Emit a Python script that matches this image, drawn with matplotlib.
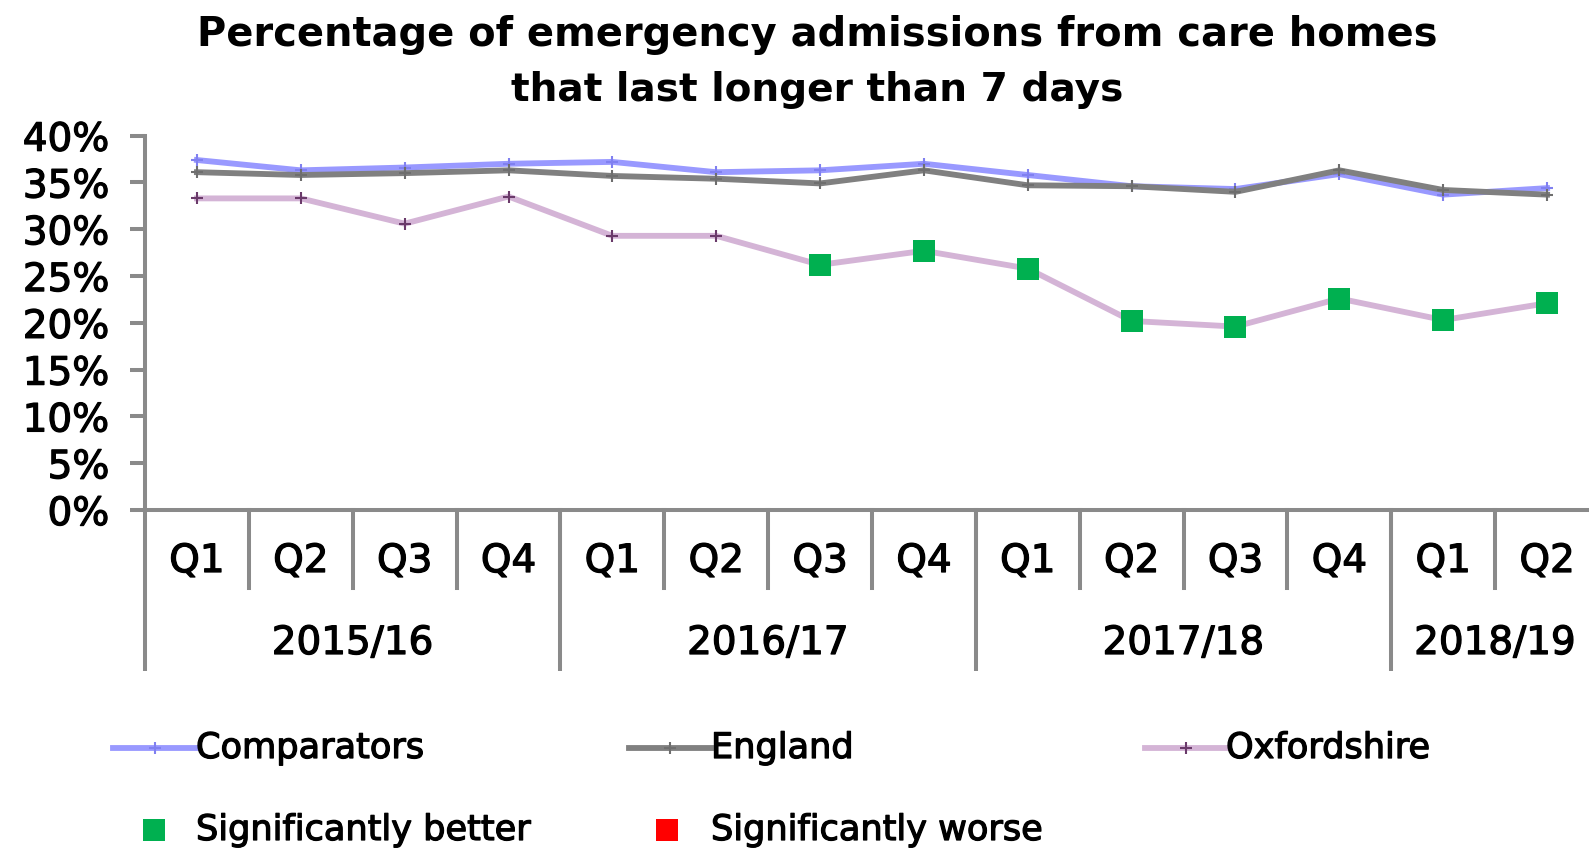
import matplotlib
matplotlib.use("Agg")
import matplotlib.pyplot as plt
import matplotlib.transforms as mtransforms
import matplotlib.patheffects as pe
from matplotlib.lines import Line2D
from matplotlib.ticker import FuncFormatter

W, H = 1589, 850

quarters = ["Q1", "Q2", "Q3", "Q4", "Q1", "Q2", "Q3", "Q4",
            "Q1", "Q2", "Q3", "Q4", "Q1", "Q2"]
years = ["2015/16", "2016/17", "2017/18", "2018/19"]
year_quarters = [4, 4, 4, 2]

comparators = [37.4, 36.3, 36.6, 37.0, 37.2, 36.1, 36.3, 37.0, 35.8, 34.6, 34.3, 35.9, 33.7, 34.4]
england = [36.1, 35.8, 36.0, 36.3, 35.7, 35.4, 34.9, 36.3, 34.7, 34.6, 34.0, 36.3, 34.2, 33.7]
oxfordshire = [33.3, 33.3, 30.6, 33.5, 29.3, 29.3, 26.2, 27.7, 25.8, 20.2, 19.6, 22.6, 20.3, 22.1]
significance = ["", "", "", "", "", "", "better", "better",
                "better", "better", "better", "better", "better", "better"]

COMP_C = "#9999FF"
ENG_C = "#808080"
OXF_C = "#D4B4D6"
BETTER_C = "#00B050"
WORSE_C = "#FF0000"
AXIS_C = "#8A8A8A"

# slight thickening so the text weight looks like the blurry original
THICK = [pe.withStroke(linewidth=0.9, foreground="black")]


def fy(px):
    # pixel row (from top) -> figure fraction
    return 1 - px / H


def fx(px):
    return px / W


fig = plt.figure(figsize=(W / 100, H / 100), dpi=100)
ax = fig.add_axes([fx(145), fy(510), fx(1454), fy(135.7) - fy(510)])

x = list(range(len(quarters)))
ax.plot(x, comparators, color=COMP_C, lw=4.2, marker="+", ms=8, mew=1.5,
        mec="#8080F0", zorder=3)
ax.plot(x, england, color=ENG_C, lw=4.2, marker="+", ms=8, mew=1.5,
        mec="#6E6E6E", zorder=4)
ax.plot(x, oxfordshire, color=OXF_C, lw=4.2, marker="+", ms=8, mew=1.5,
        mec="#6A3A6A", zorder=3)

bx = [i for i, s in enumerate(significance) if s == "better"]
ax.plot(bx, [oxfordshire[i] for i in bx], "s", color=BETTER_C, ms=16,
        mew=0, zorder=5)
wx = [i for i, s in enumerate(significance) if s == "worse"]
if wx:
    ax.plot(wx, [oxfordshire[i] for i in wx], "s", color=WORSE_C, ms=16,
            mew=0, zorder=5)

ax.set_xlim(-0.5, len(quarters) - 0.5)
ax.set_ylim(0, 40)
ax.set_yticks(range(0, 41, 5))
ax.yaxis.set_major_formatter(FuncFormatter(lambda v, p: f"{v:.0f}%"))
ax.tick_params(axis="y", direction="out", length=10.8, width=2.9,
               color=AXIS_C, pad=15, labelsize=28, labelcolor="black")
for lab in ax.get_yticklabels():
    lab.set_path_effects(THICK)
ax.set_xticks([])
for s in ["top", "right"]:
    ax.spines[s].set_visible(False)
for s in ["left", "bottom"]:
    ax.spines[s].set_color(AXIS_C)
    ax.spines[s].set_linewidth(2.9)

# multi-level category axis
trans = mtransforms.blended_transform_factory(ax.transData, fig.transFigure)
for i, q in enumerate(quarters):
    ax.text(i, fy(561), q, transform=trans, ha="center", va="center",
            fontsize=28, color="black", path_effects=THICK)
for k in range(len(quarters) - 1):
    ax.add_line(Line2D([k + 0.5, k + 0.5], [fy(510), fy(588)], transform=trans,
                       color=AXIS_C, lw=2.9, clip_on=False))
start = 0
for yr, n in zip(years, year_quarters):
    ax.text(start + (n - 1) / 2, fy(643), yr, transform=trans, ha="center",
            va="center", fontsize=28, color="black", path_effects=THICK)
    ax.add_line(Line2D([start - 0.5, start - 0.5], [fy(510), fy(671)],
                       transform=trans, color=AXIS_C, lw=2.9, clip_on=False,
                       solid_capstyle="butt"))
    start += n

# title
fig.text(fx(817), fy(46), "Percentage of emergency admissions from care homes",
         ha="center", va="baseline", fontsize=28.8, fontweight="bold")
fig.text(fx(817), fy(101), "that last longer than 7 days",
         ha="center", va="baseline", fontsize=28.2, fontweight="bold")

# legend, laid out like the Excel one
legend_lines = [("Comparators", COMP_C, "#8080F0", 113, 196),
                ("England", ENG_C, "#6E6E6E", 629, 711),
                ("Oxfordshire", OXF_C, "#6A3A6A", 1145, 1226)]
for label, c, mc, x0, x1 in legend_lines:
    fig.add_artist(Line2D([fx(x0), fx(x1)], [fy(748), fy(748)], color=c, lw=4.2,
                          transform=fig.transFigure))
    fig.add_artist(Line2D([fx((x0 + x1) / 2)], [fy(748)], marker="+", ms=8,
                          mew=1.5, color=mc, transform=fig.transFigure))
    fig.text(fx(x1), fy(748), label, ha="left", va="center", fontsize=25.3,
             path_effects=THICK)

legend_marks = [("Significantly better", BETTER_C, 154, 196),
                ("Significantly worse", WORSE_C, 667, 711)]
for label, c, xm, xt in legend_marks:
    fig.add_artist(Line2D([fx(xm)], [fy(830)], marker="s", ms=16, mew=0,
                          color=c, transform=fig.transFigure))
    fig.text(fx(xt), fy(830), label, ha="left", va="center", fontsize=25.3,
             path_effects=THICK)

fig.savefig("out.png", dpi=100, facecolor="white")
